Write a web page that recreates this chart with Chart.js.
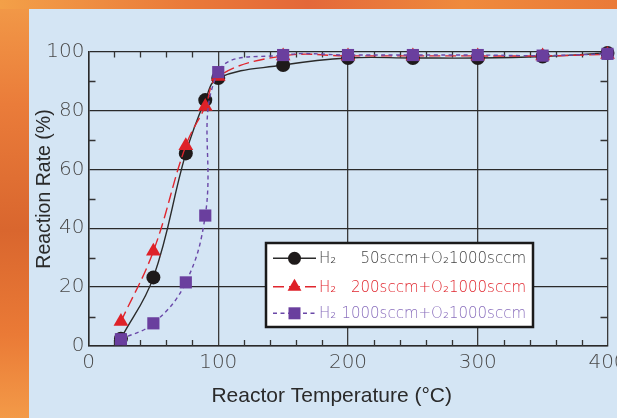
<!DOCTYPE html>
<html><head><meta charset="utf-8">
<script src="https://cdn.jsdelivr.net/npm/chart.js@4"></script>
<style>
html,body{margin:0;padding:0;width:617px;height:418px;overflow:hidden;}
body{position:relative;background:linear-gradient(180deg,#f29a48 0%,#ea7c3a 25%,#d9662e 55%,#ea7a36 80%,#f39a48 100%);}
#top{position:absolute;left:0;top:0;width:617px;height:9px;background:linear-gradient(90deg,#f3a048 0%,#ea7a3a 30%,#e4683a 50%,#ef8a3c 75%,#ea7a38 100%);}
#panel{position:absolute;left:29px;top:9px;right:0;bottom:0;background:#d4e5f4;}
#wrap{position:absolute;left:0;top:0;width:617px;height:418px;}
</style></head><body>
<div id="top"></div>
<div id="panel"></div>
<div id="wrap"><canvas id="c" width="617" height="418"></canvas></div>
<script>
const temps = [25, 50, 75, 90, 100, 150, 200, 250, 300, 350, 400];
const h2_50 = [2.5, 23.3, 65.4, 83.5, 91, 95.4, 97.8, 97.8, 97.8, 98.3, 99.5];
const h2_200 = [8.3, 32.2, 68, 81.3, 91.5, 98.5, 98.5, 98.5, 98.5, 98.5, 99];
const h2_1000 = [2.3, 7.7, 21.6, 44.3, 93, 98.8, 98.8, 98.8, 98.8, 98.6, 99.2];
const xTicks = [0, 100, 200, 300, 400];
const yTicks = [0, 20, 40, 60, 80, 100];
const seriesLabels = ['H₂ 50sccm+O₂1000sccm', 'H₂ 200sccm+O₂1000sccm', 'H₂ 1000sccm+O₂1000sccm'];
const xTitle = 'Reactor Temperature (°C)';
const yTitle = 'Reaction Rate (%)';

const tickFont = {family: '"DejaVu Sans", sans-serif', size: 20, weight: 200};
const legendTextColors = ['#444444', '#e0262e', '#8a6fbd'];

const pts = arr => temps.map((t, i) => ({x: t, y: arr[i]}));

const decor = {
  id: 'decor',
  beforeDatasetsDraw(chart) {
    const {ctx, scales: {x, y}} = chart;
    ctx.save();
    ctx.strokeStyle = '#333';
    ctx.lineWidth = 1.3;
    ctx.beginPath();
    for (let v = 20; v < 400; v += 20) {
      if (v % 100 === 0) continue;
      const px = Math.round(x.getPixelForValue(v)) + 0.5;
      ctx.moveTo(px, y.bottom); ctx.lineTo(px, y.bottom - 6);
      ctx.moveTo(px, y.top); ctx.lineTo(px, y.top + 6);
    }
    for (let v = 10; v < 100; v += 20) {
      const py = Math.round(y.getPixelForValue(v)) + 0.5;
      ctx.moveTo(x.left, py); ctx.lineTo(x.left + 7, py);
      ctx.moveTo(x.right, py); ctx.lineTo(x.right - 7, py);
    }
    ctx.stroke();
    ctx.restore();
  },
  afterDraw(chart) {
    const {ctx} = chart;
    ctx.save();
    ctx.fillStyle = '#2a2a2a';
    ctx.font = '21px "Liberation Sans", Arial, sans-serif';
    ctx.textAlign = 'center';
    ctx.textBaseline = 'middle';
    ctx.fillText(xTitle, 331.7, 396.5);
    ctx.save();
    ctx.translate(45, 189);
    ctx.rotate(-Math.PI / 2);
    ctx.font = '19.5px "Liberation Sans", Arial, sans-serif';
    ctx.fillText(yTitle, 0, 0);
    ctx.restore();

    const bx = 266, by = 243, bw = 267, bh = 84;
    ctx.fillStyle = '#ffffff';
    ctx.fillRect(bx, by, bw, bh);
    ctx.lineWidth = 2.5;
    ctx.strokeStyle = '#1a1a1a';
    ctx.strokeRect(bx, by, bw, bh);
    const rows = [258.3, 286.7, 313.3];
    chart.data.datasets.forEach((ds, i) => {
      const yy = rows[i];
      ctx.setLineDash(ds.borderDash || []);
      ctx.strokeStyle = ds.borderColor;
      ctx.lineWidth = ds.borderWidth;
      ctx.beginPath(); ctx.moveTo(273, yy); ctx.lineTo(316, yy); ctx.stroke();
      ctx.setLineDash([]);
      ctx.fillStyle = ds.pointBackgroundColor;
      const mx = 294.5;
      ctx.beginPath();
      if (ds.pointStyle === 'circle') {
        ctx.arc(mx, yy, 6.5, 0, Math.PI * 2);
      } else if (ds.pointStyle === 'triangle') {
        const r = 8;
        ctx.moveTo(mx, yy - r);
        ctx.lineTo(mx + r * 0.866, yy + r * 0.5);
        ctx.lineTo(mx - r * 0.866, yy + r * 0.5);
        ctx.closePath();
      } else {
        ctx.rect(mx - 6, yy - 6, 12, 12);
      }
      ctx.fill();
      const parts = ds.label.split(' ');
      ctx.fillStyle = legendTextColors[i];
      ctx.font = '200 15px "DejaVu Sans", sans-serif';
      ctx.textBaseline = 'middle';
      ctx.textAlign = 'left';
      ctx.fillText(parts[0], 319, yy + 1);
      ctx.textAlign = 'right';
      ctx.fillText(parts.slice(1).join(' '), 526, yy + 1);
    });
    ctx.restore();
  }
};

const common = {fill: false, tension: 0.4, clip: false, pointBorderWidth: 0, pointHoverRadius: 0};

new Chart(document.getElementById('c'), {
  type: 'line',
  data: {
    datasets: [
      Object.assign({}, common, {
        label: seriesLabels[0], data: pts(h2_50),
        borderColor: '#2a2a2a', borderWidth: 1.4,
        pointStyle: 'circle', pointRadius: 7,
        pointBackgroundColor: '#1e1a1a', pointBorderColor: '#1e1a1a', order: 3
      }),
      Object.assign({}, common, {
        label: seriesLabels[1], data: pts(h2_200),
        borderColor: '#e0262e', borderWidth: 1.4, borderDash: [11, 5],
        pointStyle: 'triangle', pointRadius: 8.5,
        pointBackgroundColor: '#de2128', pointBorderColor: '#de2128', order: 2
      }),
      Object.assign({}, common, {
        label: seriesLabels[2], data: pts(h2_1000),
        borderColor: '#6a48a8', borderWidth: 1.4, borderDash: [4, 3.5],
        pointStyle: 'rect', pointRadius: 8.6,
        pointBackgroundColor: '#6a3f9e', pointBorderColor: '#6a3f9e', order: 1
      })
    ]
  },
  options: {
    responsive: false,
    animation: false,
    devicePixelRatio: 1,
    layout: {padding: {left: 0, right: 9.5, top: 51.5, bottom: 0}},
    plugins: {legend: {display: false}, tooltip: {enabled: false}},
    events: [],
    scales: {
      x: {
        type: 'linear', min: 0, max: 400,
        afterFit: s => { s.height = 72; s.paddingLeft = 0; s.paddingRight = 0; },
        afterBuildTicks: s => { s.ticks = xTicks.map(v => ({value: v})); },
        grid: {color: '#3a3a3a', lineWidth: 1.3, drawTicks: false},
        border: {color: '#2a2a2a', width: 1.5},
        ticks: {padding: 5, color: '#4a4a4a', font: tickFont, maxRotation: 0, autoSkip: false}
      },
      y: {
        type: 'linear', min: 0, max: 100,
        afterFit: s => { s.width = 88.5; s.paddingTop = 0; s.paddingBottom = 0; },
        afterBuildTicks: s => { s.ticks = yTicks.map(v => ({value: v})); },
        grid: {color: '#2a2a2a', lineWidth: 1.3, drawTicks: false},
        border: {color: '#2a2a2a', width: 1.5},
        ticks: {padding: 4, color: '#4a4a4a', font: tickFont, autoSkip: false}
      }
    }
  },
  plugins: [decor]
});
</script>
</body></html>
